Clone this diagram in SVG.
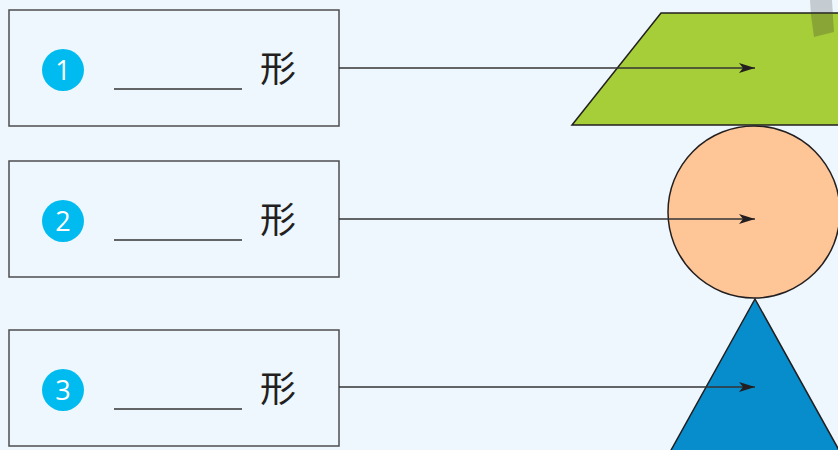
<svg xmlns="http://www.w3.org/2000/svg" width="838" height="450" viewBox="0 0 838 450">
<defs>
<style>
.box{fill:#eef7fd;stroke:#4d4d4f;stroke-width:1.5}
.badge{fill:#00bbf0}
.num{font-family:"Open Sans","Liberation Sans",sans-serif;font-size:27px;fill:#fff;text-anchor:middle}
.blank{stroke:#333;stroke-width:1.5}
.han{font-family:"Noto Sans CJK SC",serif;font-size:36px;fill:#231f20}
.shape{stroke:#231f20;stroke-width:1.5}
.conn{stroke:#333;stroke-width:1.5;fill:none}
</style>
<marker id="ah" markerWidth="16" markerHeight="10" refX="16" refY="5" orient="auto" markerUnits="userSpaceOnUse">
<path d="M0,0 L16,5 L0,10 L4,5 Z" fill="#231f20"/>
</marker>
</defs>
<rect width="838" height="450" fill="#eef7fd"/>
<g id="shapes">
<polygon points="810,0 832,0 832.8,13 810.8,13" fill="#c4ccd1"/>
<polygon class="shape" points="661,13 845,13 845,125 572,125" fill="#a6ce39"/>
<polygon points="810.8,14 832.8,14 834,32 814,37" fill="#89a535"/>
<circle class="shape" cx="754" cy="212" r="86" fill="#fec596"/>
<polygon class="shape" points="755,299 850,470 660,470" fill="#078ccc"/>
</g>
<g id="node1">
<rect class="box" x="9" y="10" width="330" height="116"/>
<circle class="badge" cx="63" cy="70" r="21"/>
<text class="num" x="63" y="80">1</text>
<line class="blank" x1="114" y1="89" x2="242" y2="89"/>
<text class="han" x="260" y="82">形</text>
</g>
<g id="node2">
<rect class="box" x="9" y="161" width="330" height="116"/>
<circle class="badge" cx="63" cy="221" r="21"/>
<text class="num" x="63" y="231">2</text>
<line class="blank" x1="114" y1="240" x2="242" y2="240"/>
<text class="han" x="260" y="233">形</text>
</g>
<g id="node3">
<rect class="box" x="9" y="330" width="330" height="116"/>
<circle class="badge" cx="63" cy="390" r="21"/>
<text class="num" x="63" y="400">3</text>
<line class="blank" x1="114" y1="409" x2="242" y2="409"/>
<text class="han" x="260" y="402">形</text>
</g>
<g id="connectors">
<line class="conn" x1="339" y1="68" x2="755" y2="68" marker-end="url(#ah)"/>
<line class="conn" x1="339" y1="219" x2="755" y2="219" marker-end="url(#ah)"/>
<line class="conn" x1="339" y1="387" x2="755" y2="387" marker-end="url(#ah)"/>
</g>
</svg>
